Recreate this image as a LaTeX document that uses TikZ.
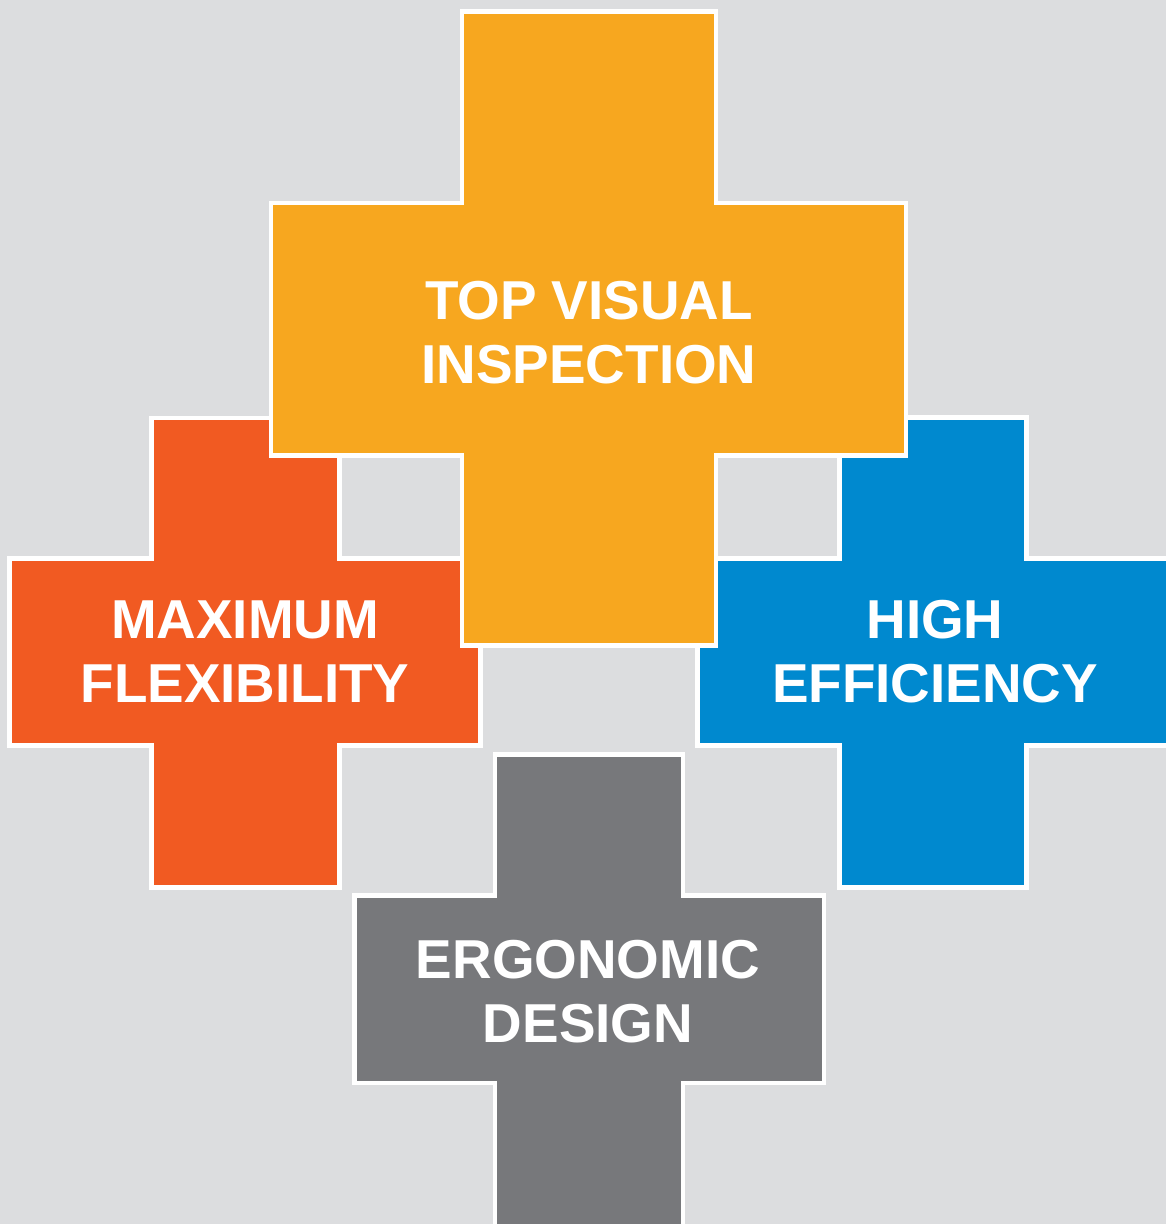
\documentclass[tikz,border=0pt]{standalone}
\usepackage{fontspec}
\setmainfont{Liberation Sans}
\usetikzlibrary{calc}

\definecolor{bggrey}{HTML}{DCDDDF}
\definecolor{plusorange}{HTML}{F7A71F}
\definecolor{plusred}{HTML}{F15A22}
\definecolor{plusblue}{HTML}{0089CF}
\definecolor{plusgrey}{HTML}{77787B}

\begin{document}
\begin{tikzpicture}[x=0.05cm,y=-0.05cm,
  plus/.style={draw=white,line width=7pt,line join=miter},
  label/.style={text=white,align=center,font=\fontsize{78}{91}\selectfont\bfseries}]

  \useasboundingbox (0,0) rectangle (1166,1224);
  \fill[bggrey] (0,0) rectangle (1166,1224);

  % left cross
  \draw[plus,fill=plusred] (151.5,418) -- (339.5,418) -- (339.5,558.5) -- (480.5,558.5) -- (480.5,745.5) -- (339.5,745.5) -- (339.5,887.5) -- (151.5,887.5) -- (151.5,745.5) -- (9.5,745.5) -- (9.5,558.5) -- (151.5,558.5) -- cycle;
  % right cross
  \draw[plus,fill=plusblue] (839.5,417.5) -- (1026.5,417.5) -- (1026.5,558.5) -- (1172,558.5) -- (1172,745.5) -- (1026.5,745.5) -- (1026.5,887.5) -- (839.5,887.5) -- (839.5,745.5) -- (697.5,745.5) -- (697.5,558.5) -- (839.5,558.5) -- cycle;
  % bottom cross
  \draw[plus,fill=plusgrey] (495,754.5) -- (683,754.5) -- (683,895.5) -- (824,895.5) -- (824,1083) -- (683,1083) -- (683,1232) -- (495,1232) -- (495,1083) -- (354.5,1083) -- (354.5,895.5) -- (495,895.5) -- cycle;
  % top cross
  \draw[plus,fill=plusorange] (462,11.5) -- (716,11.5) -- (716,203) -- (906,203) -- (906,455.5) -- (716,455.5) -- (716,645.5) -- (462,645.5) -- (462,455.5) -- (271,455.5) -- (271,203) -- (462,203) -- cycle;

  \coordinate (top) at (589,333);
  \coordinate (left) at (245,652);
  \coordinate (right) at (935,652);
  \coordinate (bottom) at (588,992);

  \node[label] (inspection) at (top) {TOP VISUAL\\INSPECTION};
  \node[label] (flexibility) at (left) {MAXIMUM\\FLEXIBILITY};
  \node[label] (efficiency) at (right) {HIGH\\EFFICIENCY};
  \node[label] (ergonomic) at (bottom) {ERGONOMIC\\DESIGN};
\end{tikzpicture}
\end{document}
